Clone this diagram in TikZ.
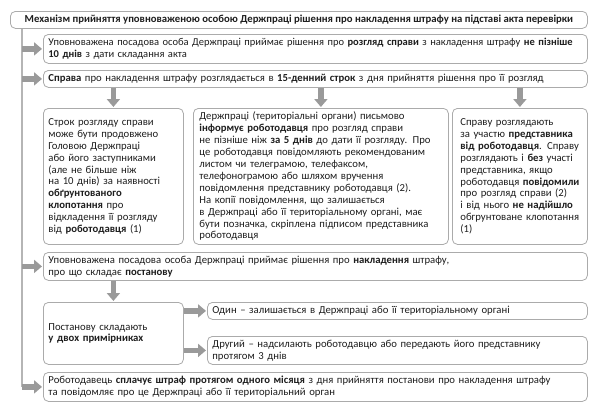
\documentclass[tikz,border=0pt]{standalone}
\usepackage{fontspec}
\setmainfont{Carlito}
\usetikzlibrary{arrows.meta}
\definecolor{boxgray}{HTML}{ABABAB}
\definecolor{arrgray}{HTML}{9A9A9A}
\definecolor{linegray}{HTML}{B5B5B5}
\definecolor{txt}{HTML}{1E1E1E}
\newcommand{\bodyfont}{\fontsize{10.7}{11.9}\selectfont}
\begin{document}
\begin{tikzpicture}[x=1pt,y=-1pt,
  box/.style={draw=boxgray, line width=0.8pt, rounded corners=5pt, fill=white,
    anchor=north west, inner xsep=5pt, inner ysep=0pt, align=left,
    font=\bodyfont, text=txt},
  widebox/.style={box, minimum width=544pt, text width=534pt},
  garrow/.style={draw=arrgray, line width=5.5pt,
    -{Triangle[length=8pt,width=13pt]}, shorten >=1pt},
  vline/.style={draw=linegray, line width=1.8pt}]
\useasboundingbox (0,0) rectangle (600,416);

\node[box, minimum width=577pt, minimum height=17pt, align=center,
  font=\fontsize{10.7}{12}\selectfont\bfseries] (title) at (10,11)
  {Механізм прийняття уповноваженою особою Держпраці рішення про накладення штрафу на підставі акта перевірки};

\node[widebox, minimum height=29pt, font=\fontsize{10.5}{11.9}\selectfont] (b1) at (43,34)
  {\mbox{Уповноважена посадова особа Держпраці приймає рішення про \textbf{розгляд справи} з накладення штрафу \textbf{не пізніше}}\\
   \textbf{10 днів} з дати складання акта};

\node[widebox, minimum height=17pt] (b2) at (43,70)
  {\textbf{Справа} про накладення штрафу розглядається в \textbf{15-денний строк} з дня прийняття рішення про її розгляд};

\node[box, minimum width=140pt, minimum height=136pt, text width=130pt] (bA) at (43,108)
  {Строк розгляду справи\\
   може бути продовжено\\
   Головою Держпраці\\
   або його заступниками\\
   (але не більше ніж\\
   на 10 днів) за наявності\\
   \textbf{обґрунтованого}\\
   \textbf{клопотання} про\\
   відкладення її розгляду\\
   від \textbf{роботодавця} (1)};

\node[box, minimum width=255pt, minimum height=136pt, inner xsep=6pt, text width=243pt] (bB) at (193,108)
  {Держпраці (територіальні органи) письмово\\
   \textbf{інформує роботодавця} про розгляд справи\\
   не пізніше ніж \textbf{за 5 днів} до дати її розгляду. Про\\
   це роботодавця повідомляють рекомендованим\\
   листом чи телеграмою, телефаксом,\\
   телефонограмою або шляхом вручення\\
   повідомлення представнику роботодавця (2).\\
   На копії повідомлення, що залишається\\
   в Держпраці або її територіальному органі, має\\
   бути позначка, скріплена підписом представника\\
   роботодавця};

\node[box, minimum width=135pt, minimum height=136pt, inner xsep=8pt, text width=119pt] (bC) at (452,108)
  {Справу розглядають\\
   за участю \textbf{представника}\\
   \textbf{від роботодавця}. Справу\\
   розглядають і \textbf{без} участі\\
   представника, якщо\\
   роботодавця \textbf{повідомили}\\
   про розгляд справи (2)\\
   і від нього \textbf{не надійшло}\\
   обгрунтоване клопотання\\
   (1)};

\node[widebox, minimum height=28pt] (b3) at (43,252)
  {Уповноважена посадова особа Держпраці приймає рішення про \textbf{накладення} штрафу,\\
   про що складає \textbf{постанову}};

\node[box, minimum width=140pt, minimum height=62pt, text width=130pt] (bD) at (43,302)
  {Постанову складають\\
   \textbf{у двох примірниках}};

\node[box, minimum width=380pt, minimum height=17pt, text width=370pt] (bE) at (207,302)
  {Один – залишається в Держпраці або її територіальному органі};

\node[box, minimum width=380pt, minimum height=28pt, text width=370pt] (bF) at (207,336)
  {Другий – надсилають роботодавцю або передають його представнику\\
   протягом 3 днів};

\node[widebox, minimum height=29pt] (bG) at (43,372)
  {Роботодавець \textbf{сплачує штраф протягом одного місяця} з дня прийняття постанови про накладення штрафу\\
   та повідомляє про це Держпраці або її територіальний орган};

% vertical spine
\coordinate (vend) at (22,387);
\draw[vline] (title.south -| vend) -- (vend);

% arrows from spine
\draw[garrow] (b1.west -| vend) -- (b1.west);
\draw[garrow] (b2.west -| vend) -- (b2.west);
\draw[garrow] (b3.west -| vend) -- (b3.west);
\draw[garrow] (bG.west -| vend) -- (bG.west);

% down arrows
\draw[garrow] (bA.north |- b2.south) -- (bA.north);
\draw[garrow] (bB.north |- b2.south) -- (bB.north);
\draw[garrow] (bC.north |- b2.south) -- (bC.north);
\draw[garrow] (bD.north |- b3.south) -- (bD.north);

% right arrows
\draw[garrow] (bE.west -| bD.east) -- (bE.west);
\draw[garrow] (bF.west -| bD.east) -- (bF.west);
\end{tikzpicture}
\end{document}
